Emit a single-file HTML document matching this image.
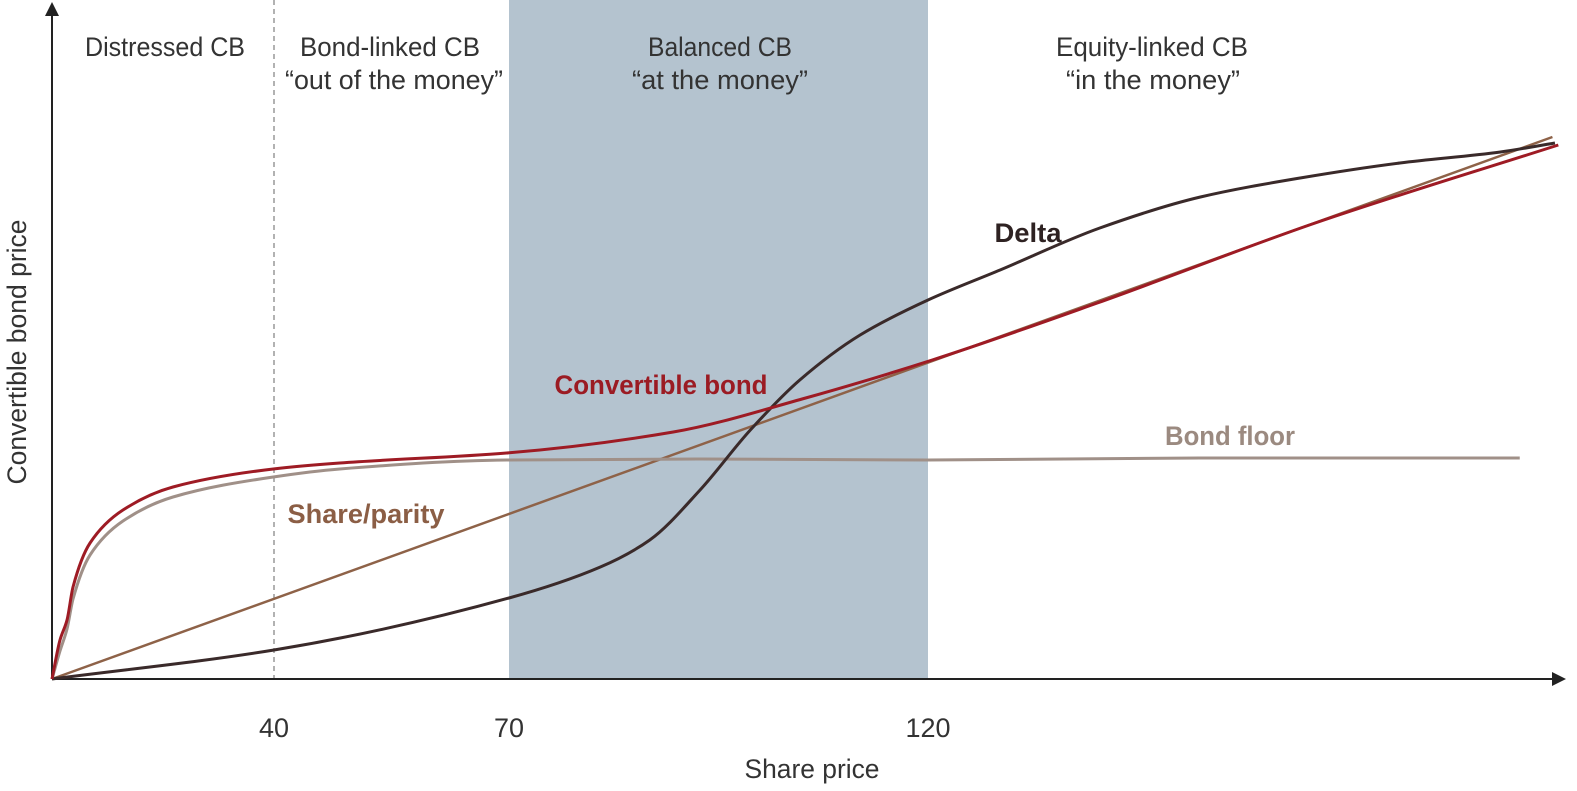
<!DOCTYPE html>
<html><head><meta charset="utf-8"><style>
html,body{margin:0;padding:0;background:#fff;}
svg{display:block;font-family:"Liberation Sans Narrow","Liberation Sans",sans-serif;}
</style></head><body>
<svg id="chart" width="1577" height="791" viewBox="0 0 1577 791" xmlns="http://www.w3.org/2000/svg">
<g id="bg"></g>
<g id="marks"></g>
<g id="txt"></g>
</svg>
<script>
const xKnotVals = [10, 40, 70, 120, 196];
const xTicks = [40, 70, 120];
const zones = [70, 120];
const dashedAt = 40;
const cbX = [10, 11.08, 12.03, 12.84, 15.14, 19.59, 26.35, 39.9, 48.4, 69.7, 89.6, 105.4, 120.5, 140.2, 166.2, 195.2];
const cbY = [0, 9.75, 14.75, 23, 34, 42.25, 48, 52.5, 54, 56.5, 61.75, 70.25, 79.75, 94, 114, 133.5];
const floorX = [10, 11.08, 12.03, 12.84, 15.14, 19.59, 26.35, 39.9, 48.4, 69.7, 92.8, 120, 152.5, 190.6];
const floorY = [0, 7, 12.5, 20, 31, 39.5, 45.5, 50.5, 52.5, 54.75, 55, 54.75, 55.25, 55.25];
const parityX = [10, 194.5];
const parityY = [0, 135.5];
const deltaX = [10, 40, 70, 80.9, 86.8, 92.8, 98.8, 104.7, 111.9, 120, 128.6, 140.5, 152.5, 164.4, 176.3, 188.3, 194.8];
const deltaY = [0, 7.25, 20.25, 28, 34.75, 47.25, 62.25, 74.75, 86, 94.75, 102.25, 112.75, 120.5, 125.25, 129, 131.75, 134];

const xKnotPx = [52, 274, 509, 928, 1565];
function X(v){
  for(let i=0;i<xKnotVals.length-1;i++){
    if(v<=xKnotVals[i+1]||i===xKnotVals.length-2){
      const t=(v-xKnotVals[i])/(xKnotVals[i+1]-xKnotVals[i]);
      return xKnotPx[i]+t*(xKnotPx[i+1]-xKnotPx[i]);
    }
  }
}
function Y(v){return 679-v*4;}
const NS="http://www.w3.org/2000/svg";
function mk(tag,parent,attrs){const e=document.createElementNS(NS,tag);for(const k in attrs)e.setAttribute(k,attrs[k]);document.getElementById(parent).appendChild(e);return e;}
function smooth(xs,ys){
  const px=xs.map(X), py=ys.map(Y), n=px.length;
  if(n<3){return "M"+px[0]+","+py[0]+" L"+px[1]+","+py[1];}
  const d=[],m=[];
  for(let i=0;i<n-1;i++)d.push((py[i+1]-py[i])/(px[i+1]-px[i]));
  m[0]=d[0];m[n-1]=d[n-2];
  for(let i=1;i<n-1;i++){
    if(d[i-1]*d[i]<=0)m[i]=0;
    else{const h0=px[i]-px[i-1],h1=px[i+1]-px[i];const w1=2*h1+h0,w2=h1+2*h0;m[i]=(w1+w2)/(w1/d[i-1]+w2/d[i]);}
  }
  let s="M"+px[0]+","+py[0];
  for(let i=0;i<n-1;i++){
    const h=(px[i+1]-px[i])/3;
    s+=" C"+(px[i]+h)+","+(py[i]+m[i]*h)+" "+(px[i+1]-h)+","+(py[i+1]-m[i+1]*h)+" "+px[i+1]+","+py[i+1];
  }
  return s;
}
let e;
e=mk("rect","bg",{x:X(zones[0]),y:0,width:X(zones[1])-X(zones[0]),height:679,fill:"#b4c3cf"});


e=mk("line","bg",{x1:X(dashedAt),x2:X(dashedAt),y1:0,y2:679,stroke:"#999",'stroke-width':1.5,'stroke-dasharray':"5,4"});


e=mk("path","bg",{d:"M52,679 L52,12",stroke:"#222",'stroke-width':2,fill:"none"});


e=mk("path","bg",{d:"M45,16 L52,2 L59,16 Z",fill:"#222"});


e=mk("path","bg",{d:"M52,679 L1556,679",stroke:"#222",'stroke-width':2,fill:"none"});


e=mk("path","bg",{d:"M1552,672 L1566,679 L1552,686 Z",fill:"#222"});



e=mk("path","marks",{d:smooth(parityX,parityY),stroke:"#8e6248",'stroke-width':2.5,fill:"none"});


e=mk("path","marks",{d:smooth(floorX,floorY),stroke:"#a09088",'stroke-width':3,fill:"none"});


e=mk("path","marks",{d:smooth(deltaX,deltaY),stroke:"#3a2a2a",'stroke-width':3,fill:"none"});


e=mk("path","marks",{d:smooth(cbX,cbY),stroke:"#9e1b24",'stroke-width':3,fill:"none"});



xTicks.forEach(t=>{
  const el=mk("text","txt",{x:X(t),y:737,'text-anchor':"middle",'font-size':27,fill:"#333"});
  el.textContent=t;
  
  
});
const labels=[
 ["zone-distressed",165,56,"Distressed CB","#333",400,160],
 ["zone-bond-linked",390,56,"Bond-linked CB","#333",400,180],
 ["zone-bond-linked-sub",394,89,"“out of the money”","#333",400,218],
 ["zone-balanced",720,56,"Balanced CB","#333",400,144],
 ["zone-balanced-sub",720,89,"“at the money”","#333",400,176],
 ["zone-equity-linked",1152,56,"Equity-linked CB","#333",400,192],
 ["zone-equity-linked-sub",1153,89,"“in the money”","#333",400,174],
 ["delta-label",1028,242,"Delta","#2e2222",700,67],
 ["convertible-bond-label",661,394,"Convertible bond","#9b1b23",700,213],
 ["bond-floor-label",1230,445,"Bond floor","#9b8a80",700,130],
 ["share-parity-label",366,523,"Share/parity","#8b5e45",700,157],
 ["x-axis-title",812,778,"Share price","#333",400,135]
];
labels.forEach(l=>{
  const el=mk("text","txt",{x:l[1],y:l[2],'text-anchor':"middle",'font-size':27,fill:l[4],'font-weight':l[5],textLength:l[6],lengthAdjust:"spacingAndGlyphs"});
  el.textContent=l[3];
  
  
});
e=mk("text","txt",{x:0,y:0,'text-anchor':"middle",'font-size':27,fill:"#333",textLength:265,lengthAdjust:"spacingAndGlyphs",transform:"translate(26,352) rotate(-90)"});
e.textContent="Convertible bond price";


</script>
</body></html>
